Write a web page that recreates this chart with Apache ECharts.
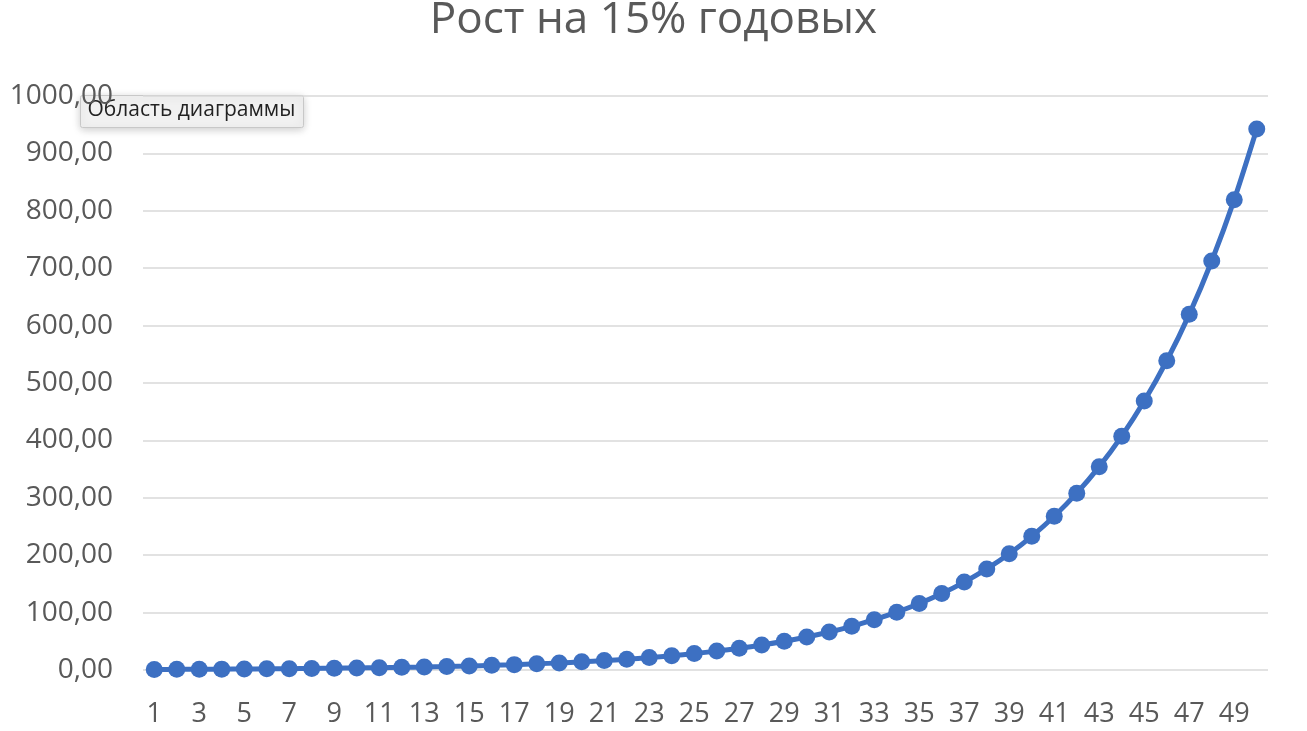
<!DOCTYPE html>
<html><head><meta charset="utf-8">
<script src="https://cdn.jsdelivr.net/npm/echarts@6/dist/echarts.min.js"></script>
<style>html,body{margin:0;padding:0;background:#fff}#c{width:1307px;height:731px}</style>
</head><body><div id="c"></div>
<script>
const titleText = 'Рост на 15% годовых';
const categories = ['1','2','3','4','5','6','7','8','9','10','11','12','13','14','15','16','17','18','19','20','21','22','23','24','25','26','27','28','29','30','31','32','33','34','35','36','37','38','39','40','41','42','43','44','45','46','47','48','49','50'];
const values = [1.00,1.15,1.32,1.52,1.75,2.01,2.31,2.66,3.06,3.52,4.05,4.65,5.35,6.15,7.08,8.14,9.36,10.76,12.38,14.23,16.37,18.82,21.64,24.89,28.63,32.92,37.86,43.54,50.07,57.58,66.21,76.14,87.57,100.70,115.80,133.18,153.15,176.12,202.54,232.92,267.86,308.04,354.25,407.39,468.50,538.77,619.58,712.52,819.40,942.31];
const tooltipLabel = 'Область диаграммы';

const chart = echarts.init(document.getElementById('c'));
chart.setOption({
  animation: false,
  title: {text: titleText, left: 'center', top: -7,
    textStyle: {fontFamily: 'Open Sans', fontWeight: 'normal', fontSize: 44, color: '#595959'}},
  grid: {left: 143, right: 39, top: 96, bottom: 61},
  xAxis: {type: 'category', data: categories, boundaryGap: true,
    axisLine: {show: false}, axisTick: {show: false},
    axisLabel: {interval: 1, fontFamily: 'Open Sans', fontSize: 27, color: '#595959', margin: 31}},
  yAxis: {type: 'value', min: 0, max: 1000, interval: 100,
    axisLabel: {fontFamily: 'Open Sans', fontSize: 28, color: '#595959', margin: 30,
      formatter: v => v.toFixed(2).replace('.', ',')},
    splitLine: {lineStyle: {color: '#d9d9d9', width: 1.5}}},
  series: [{type: 'line', data: values, smooth: 0.3, symbol: 'circle', symbolSize: 17, showAllSymbol: true,
    lineStyle: {color: '#3d70c2', width: 5}, itemStyle: {color: '#3d70c2'}}],
  graphic: [{type: 'group', left: 80, top: 95, children: [
    {type: 'rect', shape: {x: 0, y: 0, width: 223, height: 32, r: 2},
      style: {fill: '#f1f1f1', stroke: '#c8c8c8', lineWidth: 1, shadowBlur: 8, shadowColor: 'rgba(0,0,0,0.2)', shadowOffsetY: 2}},
    {type: 'text', x: 7, y: 4, style: {text: tooltipLabel, font: '21px "Open Sans"', fill: '#222'}}
  ]}]
});
</script></body></html>
